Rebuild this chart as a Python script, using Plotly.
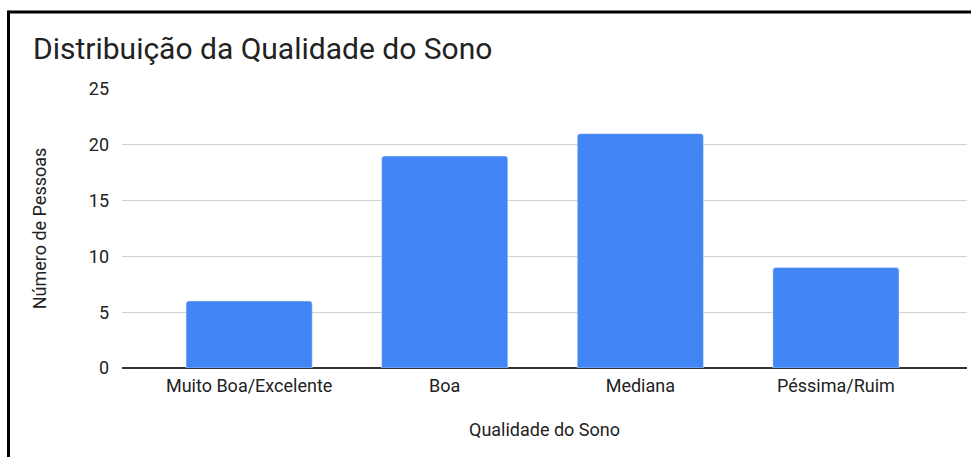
import plotly.graph_objects as go

categories = ["Muito Boa/Excelente", "Boa", "Mediana", "Péssima/Ruim"]
values = [6, 19, 21, 9]
y_ticks = [0, 5, 10, 15, 20, 25]

title_text = "Distribuição da Qualidade do Sono"
x_title = "Qualidade do Sono"
y_title = "Número de Pessoas"

W, H = 971, 457
L, R, T, B = 122, 4, 89, 89
pw, ph = W - L - R, H - T - B

def px_x(p):
    return (p - L) / pw

def px_y(p):
    return (H - B - p) / ph

fig = go.Figure(
    go.Bar(
        x=categories,
        y=values,
        marker=dict(color="#4285F4", cornerradius=3),
        width=0.645,
    )
)

font = "Roboto, Arial, sans-serif"

fig.update_layout(
    width=W,
    height=H,
    margin=dict(l=L, r=R, t=T, b=B, autoexpand=False),
    paper_bgcolor="white",
    plot_bgcolor="white",
    showlegend=False,
    font=dict(family=font, color="#222222", size=18),
    title=dict(
        text=title_text,
        x=33 / W,
        xanchor="left",
        xref="container",
        y=1 - 48 / H,
        yanchor="middle",
        yref="container",
        font=dict(size=30, color="#222222", family=font),
    ),
    xaxis=dict(
        range=[-0.65, 3.67],
        showgrid=False,
        showline=False,
        ticks="",
        ticklabelstandoff=5,
        tickfont=dict(size=18, color="#222222"),
        title=dict(text=x_title, font=dict(size=18, color="#222222"), standoff=28),
    ),
    yaxis=dict(
        range=[0, 25],
        tickvals=y_ticks,
        showgrid=True,
        gridcolor="#d0d0d0",
        gridwidth=1,
        zeroline=True,
        zerolinecolor="#333333",
        zerolinewidth=1.5,
        ticks="",
        ticklabelstandoff=12,
        tickfont=dict(size=18, color="#222222"),
        title=dict(text=y_title, font=dict(size=18, color="#222222"), standoff=37),
    ),
    shapes=[
        dict(type="line", xref="paper", yref="paper",
             x0=px_x(8.5), x1=px_x(975), y0=px_y(12), y1=px_y(12),
             line=dict(color="black", width=3)),
        dict(type="line", xref="paper", yref="paper",
             x0=px_x(8.5), x1=px_x(8.5), y0=px_y(10.5), y1=px_y(460),
             line=dict(color="black", width=3)),
    ],
)

fig.write_html(
    "out.html",
    config={"displayModeBar": False},
    post_script="document.body.style.margin='0px';",
)
